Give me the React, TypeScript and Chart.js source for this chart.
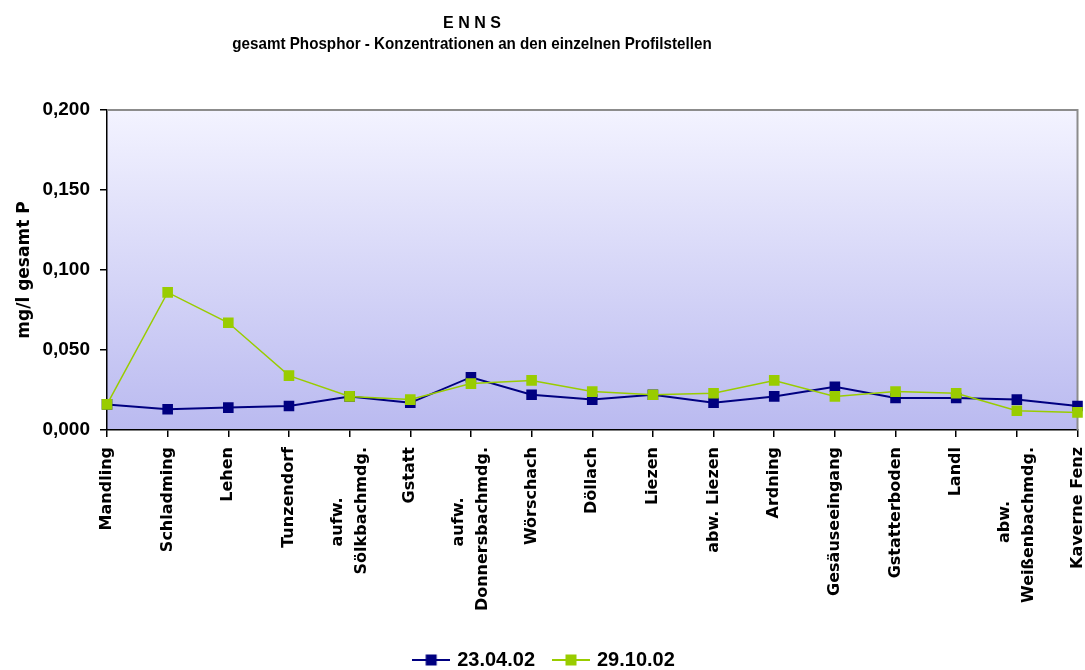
import React, { useEffect, useRef } from "react";
import { Chart, registerables } from "chart.js";

Chart.register(...registerables);

const titleText = "E N N S";
const subtitleText = "gesamt Phosphor - Konzentrationen an den einzelnen Profilstellen";
const yAxisTitle = "mg/l gesamt P";

const categories: (string | string[])[] = [
  "Mandling",
  "Schladming",
  "Lehen",
  "Tunzendorf",
  ["aufw.", "Sölkbachmdg."],
  "Gstatt",
  ["aufw.", "Donnersbachmdg."],
  "Wörschach",
  "Döllach",
  "Liezen",
  "abw. Liezen",
  "Ardning",
  "Gesäuseeingang",
  "Gstatterboden",
  "Landl",
  ["abw.", "Weißenbachmdg."],
  "Kaverne Fenz",
];

const seriesAprilLabel = "23.04.02";
const seriesAprilValues = [
  0.016, 0.013, 0.014, 0.015, 0.021, 0.017, 0.033, 0.022, 0.019, 0.022, 0.017,
  0.021, 0.027, 0.020, 0.020, 0.019, 0.015,
];

const seriesOctoberLabel = "29.10.02";
const seriesOctoberValues = [
  0.016, 0.086, 0.067, 0.034, 0.021, 0.019, 0.029, 0.031, 0.024, 0.022, 0.023,
  0.031, 0.021, 0.024, 0.023, 0.012, 0.011,
];

const yTickLabels = ["0,000", "0,050", "0,100", "0,150", "0,200"];

const BLUE = "#000080";
const GREEN = "#99CC00";

function makeMarker(color: string, lineW: number): HTMLCanvasElement {
  const c = document.createElement("canvas");
  c.width = 38;
  c.height = 12;
  const g = c.getContext("2d")!;
  g.strokeStyle = color;
  g.lineWidth = lineW;
  g.beginPath();
  g.moveTo(0, 6);
  g.lineTo(38, 6);
  g.stroke();
  g.fillStyle = color;
  g.fillRect(13.5, 0.5, 11, 11);
  return c;
}

export default function App() {
  const ref = useRef<HTMLCanvasElement | null>(null);

  useEffect(() => {
    if (!ref.current) return;
    const markers: Record<number, HTMLCanvasElement> = {
      0: makeMarker(GREEN, 2),
      1: makeMarker(BLUE, 2),
    };

    const bgPlugin = {
      id: "bgPlugin",
      beforeDraw(chart: any) {
        const { ctx, chartArea: a } = chart;
        ctx.save();
        const grad = ctx.createLinearGradient(0, a.top, 0, a.bottom);
        grad.addColorStop(0, "rgb(243,243,255)");
        grad.addColorStop(1, "rgb(186,186,240)");
        ctx.fillStyle = grad;
        ctx.fillRect(a.left, a.top, a.right - a.left, a.bottom - a.top);
        ctx.restore();
      },
      beforeDatasetsDraw(chart: any) {
        const { ctx, chartArea: a } = chart;
        ctx.save();
        ctx.strokeStyle = "#8c8c8c";
        ctx.lineWidth = 2;
        ctx.beginPath();
        ctx.moveTo(a.left, a.top);
        ctx.lineTo(a.right, a.top);
        ctx.lineTo(a.right, a.bottom);
        ctx.stroke();
        ctx.restore();
      },
    };

    const textPlugin = {
      id: "textPlugin",
      afterDraw(chart: any) {
        const ctx = chart.ctx;
        const a = chart.chartArea;
        ctx.save();
        ctx.fillStyle = "#000";
        ctx.textAlign = "center";
        ctx.textBaseline = "alphabetic";
        ctx.font = 'bold 16px "Liberation Sans", Arial, sans-serif';
        ctx.fillText(titleText, 472, 28);
        ctx.save();
        ctx.translate(472, 49);
        ctx.scale(1, 1.13);
        ctx.font = 'bold 15.2px "Liberation Sans", Arial, sans-serif';
        ctx.fillText(subtitleText, 0, 0);
        ctx.restore();

        // category labels, rotated
        const xs = chart.scales.x;
        ctx.font = 'bold 16px "DejaVu Sans", sans-serif';
        ctx.textBaseline = "middle";
        const top = a.bottom + 7 + 10;
        const LH = 24;
        const SHORT_LINE_CENTER = 75;
        categories.forEach((lab, i) => {
          const lines = Array.isArray(lab) ? lab : [lab];
          const x = xs.getPixelForTick(i);
          lines.forEach((l, j) => {
            const w = ctx.measureText(l).width;
            const isShortFirst = lines.length > 1 && j === 0;
            const cy = isShortFirst ? top + SHORT_LINE_CENTER : top + w / 2;
            ctx.save();
            ctx.translate(x + (j - (lines.length - 1) / 2) * LH, cy);
            ctx.rotate(-Math.PI / 2);
            ctx.textAlign = "center";
            ctx.fillText(l, 0, 0);
            ctx.restore();
          });
        });
        ctx.restore();
      },
    };

    const chart = new Chart(ref.current, {
      type: "line",
      data: {
        labels: categories as any,
        datasets: [
          {
            label: seriesOctoberLabel,
            data: seriesOctoberValues,
            borderColor: GREEN,
            backgroundColor: GREEN,
            borderWidth: 1.5,
            pointStyle: "rect",
            pointRadius: 7.5,
            pointBorderWidth: 0,
            pointBackgroundColor: GREEN,
            tension: 0,
            fill: false,
          },
          {
            label: seriesAprilLabel,
            data: seriesAprilValues,
            borderColor: BLUE,
            backgroundColor: BLUE,
            borderWidth: 2,
            pointStyle: "rect",
            pointRadius: 7.5,
            pointBorderWidth: 0,
            pointBackgroundColor: BLUE,
            tension: 0,
            fill: false,
          },
        ],
      },
      options: {
        responsive: false,
        animation: false,
        devicePixelRatio: 1,
        layout: { padding: { top: 110, right: 7, left: 12, bottom: 0 } },
        plugins: {
          title: { display: false },
          tooltip: { enabled: false },
          legend: {
            display: true,
            position: "bottom",
            reverse: true,
            labels: {
              usePointStyle: true,
              pointStyleWidth: 32,
              padding: 20,
              color: "#000",
              font: { family: '"Liberation Sans", Arial, sans-serif', size: 20, weight: "bold" },
              generateLabels: (c: any) => {
                const items = (Chart.defaults.plugins.legend.labels as any).generateLabels(c);
                return items.map((it: any) => ({ ...it, pointStyle: markers[it.datasetIndex], fontColor: "#000" }));
              },
            },
          },
        },
        scales: {
          x: {
            type: "category",
            offset: false,
            grid: {
              drawOnChartArea: false,
              drawTicks: true,
              tickLength: 7,
              color: "#000",
              lineWidth: 1.5,
            },
            border: { display: true, color: "#000", width: 1.5 },
            ticks: { display: false },
            afterFit: (s: any) => {
              s.height = 200;
            },
          },
          y: {
            min: 0,
            max: 0.2,
            grid: {
              drawOnChartArea: false,
              drawTicks: true,
              tickLength: 7,
              color: "#000",
              lineWidth: 1.5,
            },
            border: { display: true, color: "#000", width: 1.5 },
            ticks: {
              stepSize: 0.05,
              padding: 10,
              color: "#000",
              font: { family: '"Liberation Sans", Arial, sans-serif', size: 19, weight: "bold" },
              callback: (_v: any, i: number) => yTickLabels[i],
            },
            title: {
              display: true,
              text: yAxisTitle,
              color: "#000",
              font: { family: '"DejaVu Sans", sans-serif', size: 17, weight: "bold" },
              padding: { top: 2, bottom: 0 },
            },
            afterFit: (s: any) => {
              s.width = 95;
            },
          },
        },
      },
      plugins: [bgPlugin, textPlugin],
    });
    return () => chart.destroy();
  }, []);

  return (
    <div style={{ position: "fixed", left: 0, top: 0, width: 1085, height: 680, background: "#fff" }}>
      <canvas ref={ref} width={1085} height={680} style={{ display: "block", width: 1085, height: 680 }} />
    </div>
  );
}
